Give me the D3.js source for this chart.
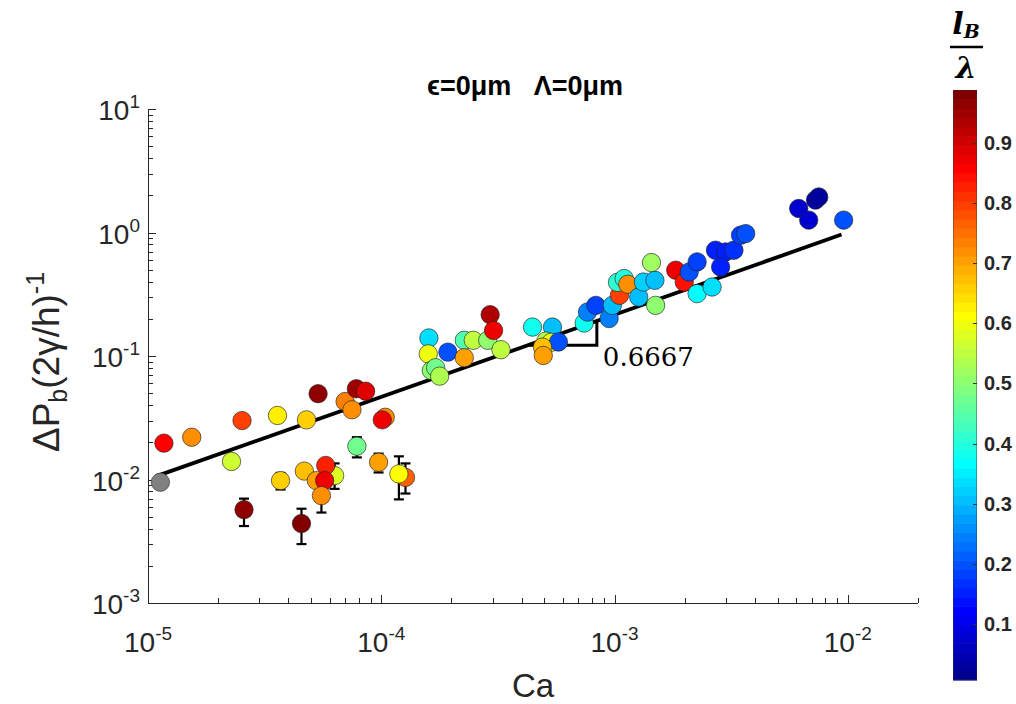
<!DOCTYPE html>
<html><head><meta charset="utf-8">
<script src="https://cdn.jsdelivr.net/npm/d3@7/dist/d3.min.js"></script>
<style>body{margin:0;background:#fff}svg{display:block}</style>
</head><body>
<svg id="chart" width="1016" height="704"></svg>
<script>
// ---------------- data ----------------
const caVals = [1.17e-5,1.54e-5,2.53e-5,3.59e-5,4.78e-5,5.36e-5,7.0e-5,7.49e-5,7.82e-5,8.57e-5,1.04e-4,1.01e-4,2.28e-5,
  3.70e-5,4.68e-5,5.27e-5,6.31e-5,5.78e-5,5.72e-5,5.54e-5,7.86e-5,9.74e-5,1.27e-4,1.19e-4,2.58e-5,4.55e-5,
  1.60e-4,1.59e-4,1.93e-4,1.64e-4,1.71e-4,1.78e-4,2.27e-4,2.48e-4,2.27e-4,2.86e-4,2.93e-4,3.03e-4,3.26e-4,
  4.45e-4,5.42e-4,5.08e-4,5.35e-4,5.75e-4,4.91e-4,4.95e-4,7.41e-4,7.66e-4,8.32e-4,9.48e-4,9.79e-4,
  1.05e-3,1.03e-3,1.10e-3,1.14e-3,1.27e-3,1.33e-3,1.49e-3,1.50e-3,1.44e-3,1.83e-3,1.99e-3,2.09e-3,2.26e-3,2.26e-3,
  2.62e-3,2.71e-3,2.99e-3,3.25e-3,2.85e-3,3.47e-3,3.65e-3,6.16e-3,6.80e-3,7.27e-3,7.51e-3,9.6e-3];
const dpVals = [0.0197,0.022,0.030,0.033,0.0304,0.0495,0.0428,0.0367,0.0543,0.0519,0.0319,0.0304,0.0140,
  0.0098,0.0117,0.0098,0.01075,0.0130,0.0098,0.0074,0.0186,0.0138,0.0104,0.0111,0.0057,0.0044,
  0.140,0.104,0.1075,0.0764,0.0804,0.0687,0.134,0.134,0.0969,0.134,0.216,0.161,0.1125,
  0.1715,0.1715,0.132,0.129,0.130,0.118,0.101,0.185,0.227,0.257,0.201,0.257,
  0.310,0.395,0.424,0.381,0.300,0.397,0.410,0.257,0.571,0.495,0.397,0.479,0.578,0.320,
  0.362,0.719,0.696,0.719,0.526,0.951,0.980,1.565,1.26,1.83,1.94,1.26];
const lbVals = [0.86,0.72,0.79,0.63,0.66,0.97,0.74,0.72,0.95,0.89,0.72,0.88,0.56,
  0.66,0.68,0.70,0.58,0.82,0.88,0.72,0.47,0.70,0.77,0.62,0.96,0.98,
  0.33,0.60,0.20,0.50,0.47,0.53,0.45,0.55,0.70,0.50,0.93,0.87,0.55,
  0.38,0.30,0.53,0.60,0.20,0.68,0.70,0.38,0.25,0.18,0.24,0.30,
  0.80,0.42,0.40,0.72,0.30,0.32,0.30,0.50,0.52,0.88,0.85,0.20,0.18,0.37,
  0.33,0.15,0.15,0.17,0.15,0.18,0.20,0.08,0.07,0.05,0.03,0.20];
// error bars (lower / upper bound of ΔP), null when none
const errLo = [null,null,null,null,null,null,null,null,null,null,null,null,null,
  0.0083,null,null,0.0084,null,null,0.0054,0.0151,0.0114,0.0077,0.0069,0.0042,0.0030];
const errHi = [null,null,null,null,null,null,null,null,null,null,null,null,null,
  0.0113,null,null,0.0135,null,null,0.0094,0.0220,0.0162,0.0135,0.0154,0.0070,0.0058];
// point without l_B/λ value (grey)
const greyCa = [1.13e-5];
const greyDp = [0.0095];
// power-law fit line endpoints and slope triangle
const fitCa = [1.08e-5, 9.4e-3];
const fitDp = [0.0106, 0.962];
const triCa = [4.25e-4, 8.4e-4, 8.4e-4];
const triDp = [0.122, 0.122, 0.193];
const slopeText = "0.6667";
// axes
const xTickVals = [1e-5, 1e-4, 1e-3, 1e-2];
const xTickExp = ["-5", "-4", "-3", "-2"];
const yTickVals = [1e-3, 1e-2, 1e-1, 1, 10];
const yTickExp = ["-3", "-2", "-1", "0", "1"];
const xDomain = [1e-5, 2e-2];
const yDomain = [1e-3, 10];
const cbDomain = [0.007, 0.988];
const cbTicks = [0.1, 0.2, 0.3, 0.4, 0.5, 0.6, 0.7, 0.8, 0.9];
const titleText = "ϵ=0μm   Λ=0μm";
const xLabel = "Ca";

// ---------------- drawing ----------------
const svg = d3.select("#chart");
const L = 148, R = 918, T = 109, B = 603;
const x = d3.scaleLog().domain(xDomain).range([L, R]);
const y = d3.scaleLog().domain(yDomain).range([B, T]);
const axisCol = "#262626";
const sans = "'Liberation Sans', Arial, sans-serif";

// MATLAB jet(64)
function jetU(k){ if(k<1||k>47) return 0; if(k<=16) return k/16; if(k<=31) return 1; return (48-k)/16; }
function jetIdx(j){ // j 1..64
  const r = jetU(j-24), g = jetU(j-8), b = jetU(j+8);
  return d3.rgb(r*255, g*255, b*255).toString();
}
function colorOf(v){
  const t = (v - cbDomain[0]) / (cbDomain[1] - cbDomain[0]);
  let j = Math.floor(t*64) + 1; j = Math.max(1, Math.min(64, j));
  return jetIdx(j);
}

function logTicks(d){
  const out=[]; const e0=Math.floor(Math.log10(d[0])), e1=Math.ceil(Math.log10(d[1]));
  for(let e=e0;e<=e1;e++) for(let m=1;m<10;m++){ const v=m*Math.pow(10,e); if(v>=d[0]*0.9999&&v<=d[1]*1.0001) out.push({v, major:m===1}); }
  return out;
}
const gAx = svg.append("g").attr("stroke", axisCol).attr("stroke-width", 1);
gAx.append("line").attr("x1", L).attr("x2", R).attr("y1", B+0.5).attr("y2", B+0.5);
gAx.append("line").attr("x1", L+0.5).attr("x2", L+0.5).attr("y1", T).attr("y2", B);
logTicks(xDomain).forEach(t=>{
  const px = Math.round(x(t.v))+0.5;
  gAx.append("line").attr("x1",px).attr("x2",px).attr("y1",B).attr("y2",B-(t.major?8:5));
});
logTicks(yDomain).forEach(t=>{
  const py = Math.round(y(t.v))+0.5;
  gAx.append("line").attr("y1",py).attr("y2",py).attr("x1",L).attr("x2",L+(t.major?8:5));
});
// tick labels
xTickVals.forEach((v,i)=>{
  const t = svg.append("text").attr("x", x(v)).attr("y", 652).attr("text-anchor","middle")
    .attr("font-family", sans).attr("font-size", 28).attr("fill", axisCol);
  t.append("tspan").text("10");
  t.append("tspan").attr("dy", -12).attr("font-size", 19).text(xTickExp[i]);
});
yTickVals.forEach((v,i)=>{
  const t = svg.append("text").attr("x", 140).attr("y", y(v)+11).attr("text-anchor","end")
    .attr("font-family", sans).attr("font-size", 28).attr("fill", axisCol);
  t.append("tspan").text("10");
  t.append("tspan").attr("dy", -12).attr("font-size", 19).text(yTickExp[i]);
});
// axis labels
svg.append("text").attr("x", 533).attr("y", 697).attr("text-anchor","middle")
  .attr("font-family", sans).attr("font-size", 33).attr("fill", axisCol).text(xLabel);
const yl = svg.append("text").attr("transform","translate(59,362) rotate(-90)").attr("text-anchor","middle")
  .attr("font-family", sans).attr("font-size", 37).attr("fill", axisCol);
yl.append("tspan").text("ΔP");
yl.append("tspan").attr("dy", 8).attr("font-size", 25).text("b");
yl.append("tspan").attr("dy", -8).text("(2γ/h)");
yl.append("tspan").attr("dy", -15).attr("font-size", 25).text("-1");
// title
svg.append("text").attr("x", 525).attr("y", 95).attr("text-anchor","middle")
  .attr("font-family", sans).attr("font-weight","bold").attr("font-size", 27).attr("fill","#000")
  .style("white-space","pre").text(titleText);

// fit line
const lineGen = d3.line().x(d=>x(d[0])).y(d=>y(d[1]));
svg.append("path").attr("d", lineGen(fitCa.map((c,i)=>[c, fitDp[i]])))
  .attr("stroke","#000").attr("stroke-width",3.8).attr("fill","none");
svg.append("path").attr("d", lineGen(triCa.map((c,i)=>[c, triDp[i]])))
  .attr("stroke","#000").attr("stroke-width",3).attr("fill","none");
svg.append("text").attr("x", x(triCa[1])+6).attr("y", y(triDp[0])+21)
  .attr("font-family","'DejaVu Serif', serif").attr("font-size",26).attr("fill","#000").text(slopeText);

// error bars
const gErr = svg.append("g").attr("stroke","#000").attr("stroke-width",2.2);
errLo.forEach((lo,i)=>{
  if(lo==null) return;
  const hi = errHi[i], px = x(caVals[i]);
  gErr.append("line").attr("x1",px).attr("x2",px).attr("y1",y(lo)).attr("y2",y(hi));
  [lo,hi].forEach(v=>gErr.append("line").attr("x1",px-5).attr("x2",px+5).attr("y1",y(v)).attr("y2",y(v)));
});

// markers
const gPts = svg.append("g");
greyCa.forEach((c,i)=>gPts.append("circle").attr("cx",x(c)).attr("cy",y(greyDp[i])).attr("r",9.2)
  .attr("fill","#808080").attr("stroke","#333").attr("stroke-opacity",0.6));
caVals.forEach((c,i)=>{
  gPts.append("circle").attr("cx",x(c)).attr("cy",y(dpVals[i])).attr("r",9.2)
    .attr("fill",colorOf(lbVals[i])).attr("stroke","#222").attr("stroke-opacity",0.65).attr("stroke-width",1);
});

// colorbar
const cbX = 953, cbW = 24, cbT = 90, cbB = 680;
const cy = d3.scaleLinear().domain(cbDomain).range([cbB, cbT]);
const cbH = (cbB-cbT)/64;
const gCb = svg.append("g");
d3.range(1,65).forEach(j=>{
  gCb.append("rect").attr("x",cbX).attr("width",cbW).attr("y",cbB - j*cbH).attr("height",cbH+0.6).attr("fill",jetIdx(j));
});
gCb.append("rect").attr("x",cbX+0.5).attr("y",cbT+0.5).attr("width",cbW-1).attr("height",cbB-cbT-1)
  .attr("fill","none").attr("stroke","#333").attr("stroke-opacity",0.4);
cbTicks.forEach(v=>{
  const py = Math.round(cy(v))+0.5;
  gCb.append("line").attr("x1",cbX+cbW-4).attr("x2",cbX+cbW).attr("y1",py).attr("y2",py).attr("stroke","#333");
  gCb.append("text").attr("x",984).attr("y",cy(v)+7).attr("font-family",sans).attr("font-weight","bold")
    .attr("font-size",20).attr("fill",axisCol).text(v.toFixed(1));
});
// colorbar label l_B / λ
const ser = "'DejaVu Serif', 'Liberation Serif', serif";
const lab = svg.append("text").attr("x",966).attr("y",34).attr("text-anchor","middle")
  .attr("font-family",ser).attr("font-weight","bold").attr("font-style","italic").attr("font-size",30).attr("fill","#000");
lab.append("tspan").text("l");
lab.append("tspan").attr("dy",4).attr("font-size",19).text("B");
svg.append("line").attr("x1",950).attr("x2",983).attr("y1",47).attr("y2",47).attr("stroke","#000").attr("stroke-width",2.5);
svg.append("text").attr("x",966).attr("y",78).attr("text-anchor","middle")
  .attr("font-family",ser).attr("font-weight","bold").attr("font-style","italic").attr("font-size",30).attr("fill","#000").text("λ");
</script>
</body></html>
